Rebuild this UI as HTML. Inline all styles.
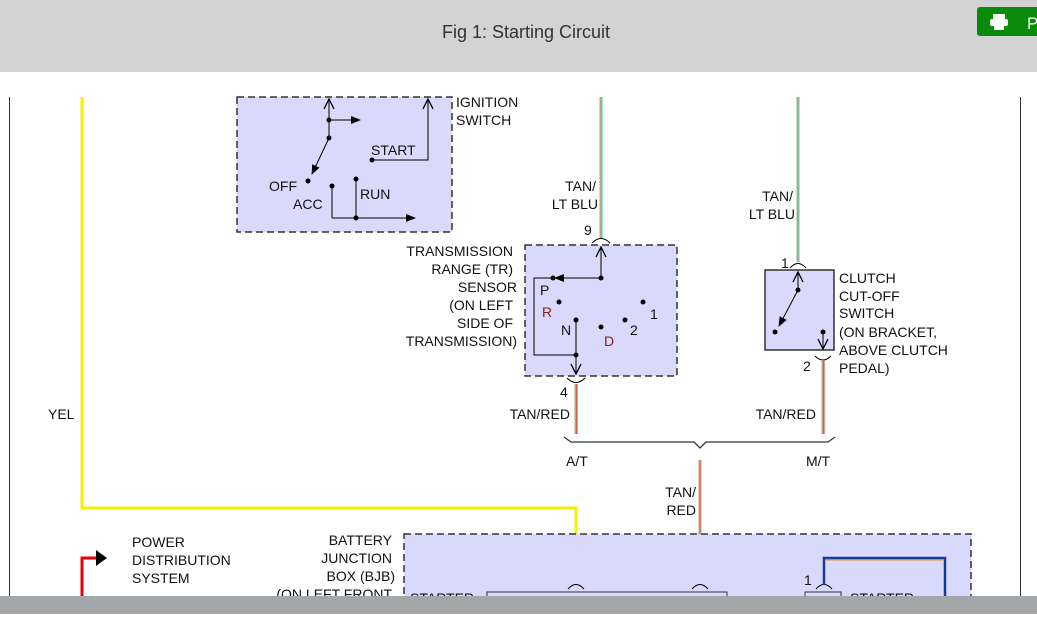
<!DOCTYPE html>
<html><head><style>
body{margin:0;width:1037px;height:614px;overflow:hidden;background:#fff;font-family:"Liberation Sans",sans-serif}
svg text{font-family:"Liberation Sans",sans-serif;font-size:14px;fill:#111}
</style></head><body>
<svg width="1037" height="614" xmlns="http://www.w3.org/2000/svg">
<defs><marker id="a" markerWidth="10" markerHeight="8" refX="9" refY="4" orient="auto"><path d="M0,0 L10,4 L0,8z" fill="#000"/></marker>
<marker id="o" markerWidth="12" markerHeight="12" refX="11" refY="6" orient="auto"><path d="M1,1 L11,6 L1,11" fill="none" stroke="#000" stroke-width="1.3"/></marker></defs>
<rect x="0" y="0" width="1037" height="72" fill="#d3d3d3"/>
<text x="526" y="38" text-anchor="middle" style="font-size:18px;fill:#333">Fig 1: Starting Circuit</text>
<rect x="977" y="7" width="70" height="29" rx="3" fill="#0a8a0a"/>
<rect x="993" y="14" width="12" height="6" fill="#fff"/><rect x="990" y="19" width="18" height="7" rx="2" fill="#fff"/><rect x="994" y="25" width="10" height="5" fill="#fff"/>
<text x="1027" y="29" style="fill:#fff;font-size:17px">P</text>
<line x1="9.5" y1="97" x2="9.5" y2="614" stroke="#333"/>
<line x1="1020.5" y1="97" x2="1020.5" y2="614" stroke="#333"/>
<!-- yellow -->
<polyline points="82,97 82,508 576,508 576,582" fill="none" stroke="#f5f000" stroke-width="3"/>
<text x="48" y="419">YEL</text>
<!-- ignition switch -->
<rect x="237" y="97" width="215" height="135" fill="#d9d9fb" stroke="#333" stroke-dasharray="7,4" stroke-width="1.5"/>
<line x1="329" y1="118" x2="329" y2="99" stroke="#000" marker-end="url(#o)"/>
<line x1="329" y1="120" x2="360" y2="120" stroke="#000" marker-end="url(#a)"/>
<line x1="329" y1="118" x2="329" y2="138" stroke="#000"/>
<line x1="329" y1="138" x2="312" y2="174" stroke="#000" marker-end="url(#a)"/>
<circle cx="329" cy="120" r="2.5"/><circle cx="329" cy="138" r="2.5"/><circle cx="308" cy="181" r="2.5"/>
<polyline points="372,160 428,160 428,99" fill="none" stroke="#000" marker-end="url(#o)"/>
<circle cx="372" cy="160" r="2.5"/>
<line x1="332" y1="186" x2="332" y2="218" stroke="#000"/>
<line x1="356" y1="179" x2="356" y2="218" stroke="#000"/>
<line x1="332" y1="218" x2="415" y2="218" stroke="#000" marker-end="url(#a)"/>
<circle cx="332" cy="186" r="2.5"/><circle cx="356" cy="179" r="2.5"/><circle cx="356" cy="218" r="2.5"/>
<text x="371" y="155">START</text><text x="269" y="191">OFF</text><text x="293" y="209">ACC</text><text x="360" y="199">RUN</text>
<text x="456" y="107">IGNITION</text><text x="456" y="125">SWITCH</text>
<!-- wires top -->
<line x1="601" y1="97" x2="601" y2="238" stroke="#b8a878" stroke-width="3"/><line x1="602" y1="97" x2="602" y2="238" stroke="#40d0e0" stroke-width="1"/>
<line x1="798" y1="97" x2="798" y2="262" stroke="#b8a878" stroke-width="3"/><line x1="799" y1="97" x2="799" y2="262" stroke="#40d0e0" stroke-width="1"/>
<text x="596" y="191" text-anchor="end">TAN/</text><text x="598" y="209" text-anchor="end">LT BLU</text>
<text x="793" y="201" text-anchor="end">TAN/</text><text x="795" y="219" text-anchor="end">LT BLU</text>
<text x="584" y="235">9</text>
<path d="M592,243 Q601,234 610,243" fill="none" stroke="#000"/>
<!-- TR sensor -->
<rect x="525" y="245" width="152" height="131" fill="#d9d9fb" stroke="#333" stroke-dasharray="7,4" stroke-width="1.5"/>
<line x1="601" y1="278" x2="601" y2="247" stroke="#000" marker-end="url(#o)"/>
<line x1="601" y1="278" x2="555" y2="278" stroke="#000" marker-end="url(#a)"/>
<circle cx="601" cy="278" r="2.5"/><circle cx="553" cy="278" r="2.5"/>
<polyline points="555,278 534,278 534,355 576,355" fill="none" stroke="#000"/>
<line x1="576" y1="320" x2="576" y2="374" stroke="#000" marker-end="url(#o)"/>
<circle cx="576" cy="320" r="2.5"/><circle cx="576" cy="355" r="2.5"/>
<circle cx="559" cy="302" r="2.5"/><circle cx="601" cy="327" r="2.5"/><circle cx="625" cy="320" r="2.5"/><circle cx="643" cy="302" r="2.5"/>
<text x="540" y="295">P</text><text x="542" y="317" style="fill:#8b1a1a">R</text><text x="561" y="335">N</text><text x="604" y="346" style="fill:#8b1a1a">D</text><text x="630" y="335">2</text><text x="650" y="319">1</text>
<g text-anchor="end"><text x="513" y="256">TRANSMISSION</text><text x="513" y="274">RANGE (TR)</text><text x="517" y="292">SENSOR</text><text x="513" y="310">(ON LEFT</text><text x="513" y="328">SIDE OF</text><text x="517" y="346">TRANSMISSION)</text></g>
<path d="M567,378 Q576,387 585,378" fill="none" stroke="#000"/>
<text x="560" y="397">4</text>
<line x1="576" y1="384" x2="576" y2="434" stroke="#b8a878" stroke-width="3"/><line x1="577" y1="384" x2="577" y2="434" stroke="#e02020" stroke-width="1"/>
<text x="570" y="419" text-anchor="end">TAN/RED</text>
<!-- clutch -->
<text x="781" y="268">1</text>
<path d="M790,268 Q798,259 806,268" fill="none" stroke="#000"/>
<rect x="765" y="270" width="69" height="80" fill="#d9d9fb" stroke="#333" stroke-width="1.5"/>
<line x1="798" y1="290" x2="798" y2="272" stroke="#000" marker-end="url(#o)"/>
<line x1="798" y1="290" x2="779" y2="326" stroke="#000" marker-end="url(#a)"/>
<circle cx="798" cy="290" r="2.5"/><circle cx="775" cy="332" r="2.5"/><circle cx="823" cy="332" r="2.5"/>
<line x1="823" y1="332" x2="823" y2="349" stroke="#000" marker-end="url(#o)"/>
<path d="M815,356 Q823,364 831,356" fill="none" stroke="#000"/>
<text x="803" y="371">2</text>
<line x1="823" y1="360" x2="823" y2="434" stroke="#b8a878" stroke-width="3"/><line x1="824" y1="360" x2="824" y2="434" stroke="#e02020" stroke-width="1"/>
<text x="816" y="419" text-anchor="end">TAN/RED</text>
<text x="839" y="283">CLUTCH</text><text x="839" y="301">CUT-OFF</text><text x="839" y="318">SWITCH</text><text x="839" y="337">(ON BRACKET,</text><text x="839" y="355">ABOVE CLUTCH</text><text x="839" y="373">PEDAL)</text>
<!-- brace -->
<polyline points="564,437 571,442 694,442 700,448 706,442 828,442 835,437" fill="none" stroke="#333" stroke-width="1.3"/>
<text x="566" y="466">A/T</text><text x="806" y="466">M/T</text>
<line x1="700" y1="460" x2="700" y2="588" stroke="#b8a878" stroke-width="3"/><line x1="700" y1="460" x2="700" y2="588" stroke="#f06060" stroke-width="1"/>
<text x="696" y="497" text-anchor="end">TAN/</text><text x="696" y="515" text-anchor="end">RED</text>
<!-- PDS -->
<polyline points="82,614 82,558 96,558" fill="none" stroke="#f00000" stroke-width="3"/>
<path d="M96,550 L107,558 L96,566z" fill="#000"/>
<text x="132" y="547">POWER</text><text x="132" y="565">DISTRIBUTION</text><text x="132" y="583">SYSTEM</text>
<!-- BJB -->
<rect x="404" y="534" width="567" height="90" fill="#d9d9fb" stroke="#333" stroke-dasharray="7,4" stroke-width="1.5"/>
<g text-anchor="end"><text x="392" y="545">BATTERY</text><text x="392" y="563">JUNCTION</text><text x="395" y="581">BOX (BJB)</text><text x="392" y="599">(ON LEFT FRONT</text></g>
<path d="M568,589 Q576,580 584,589" fill="none" stroke="#000"/>
<path d="M692,589 Q700,580 708,589" fill="none" stroke="#000"/>
<path d="M816,589 Q824,580 832,589" fill="none" stroke="#000"/>
<text x="804" y="585">1</text>
<rect x="487" y="592" width="240" height="30" fill="#d9d9fb" stroke="#333"/>
<rect x="805" y="592" width="36" height="30" fill="#d9d9fb" stroke="#333"/>
<text x="410" y="603">STARTER</text><text x="850" y="603">STARTER</text>
<polyline points="824,585 824,558 945,558 945,614" fill="none" stroke="#1a3a9a" stroke-width="2.5"/>
<line x1="826" y1="560" x2="943" y2="560" stroke="#e0902a" stroke-width="1"/>
<rect x="0" y="596" width="1037" height="18" fill="#a3a7aa"/>
</svg>
</body></html>
